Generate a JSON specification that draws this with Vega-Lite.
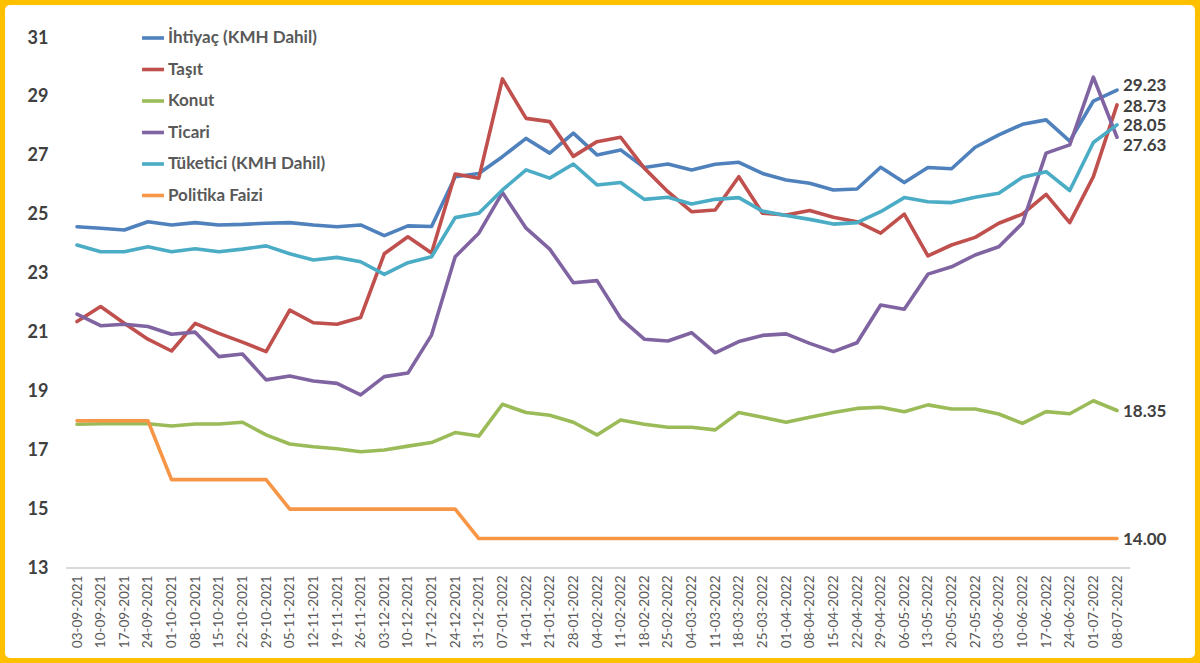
{
  "$schema": "https://vega.github.io/schema/vega-lite/v6.json",
  "width": 1200,
  "height": 663,
  "autosize": {"type": "none"},
  "padding": 0,
  "background": "white",
  "config": {
    "view": {"stroke": "#FFC000", "strokeWidth": 10, "cornerRadius": 10},
    "font": "Lato"
  },
  "datasets": {
    "rows": [
      {"d":"03-09-2021","s":"İhtiyaç (KMH Dahil)","v":24.59},{"d":"10-09-2021","s":"İhtiyaç (KMH Dahil)","v":24.54},{"d":"17-09-2021","s":"İhtiyaç (KMH Dahil)","v":24.48},{"d":"24-09-2021","s":"İhtiyaç (KMH Dahil)","v":24.76},{"d":"01-10-2021","s":"İhtiyaç (KMH Dahil)","v":24.65},{"d":"08-10-2021","s":"İhtiyaç (KMH Dahil)","v":24.73},{"d":"15-10-2021","s":"İhtiyaç (KMH Dahil)","v":24.65},{"d":"22-10-2021","s":"İhtiyaç (KMH Dahil)","v":24.67},{"d":"29-10-2021","s":"İhtiyaç (KMH Dahil)","v":24.71},{"d":"05-11-2021","s":"İhtiyaç (KMH Dahil)","v":24.73},{"d":"12-11-2021","s":"İhtiyaç (KMH Dahil)","v":24.65},{"d":"19-11-2021","s":"İhtiyaç (KMH Dahil)","v":24.59},{"d":"26-11-2021","s":"İhtiyaç (KMH Dahil)","v":24.65},{"d":"03-12-2021","s":"İhtiyaç (KMH Dahil)","v":24.29},{"d":"10-12-2021","s":"İhtiyaç (KMH Dahil)","v":24.62},{"d":"17-12-2021","s":"İhtiyaç (KMH Dahil)","v":24.6},{"d":"24-12-2021","s":"İhtiyaç (KMH Dahil)","v":26.29},{"d":"31-12-2021","s":"İhtiyaç (KMH Dahil)","v":26.4},{"d":"07-01-2022","s":"İhtiyaç (KMH Dahil)","v":26.97},{"d":"14-01-2022","s":"İhtiyaç (KMH Dahil)","v":27.59},{"d":"21-01-2022","s":"İhtiyaç (KMH Dahil)","v":27.09},{"d":"28-01-2022","s":"İhtiyaç (KMH Dahil)","v":27.77},{"d":"04-02-2022","s":"İhtiyaç (KMH Dahil)","v":27.03},{"d":"11-02-2022","s":"İhtiyaç (KMH Dahil)","v":27.2},{"d":"18-02-2022","s":"İhtiyaç (KMH Dahil)","v":26.6},{"d":"25-02-2022","s":"İhtiyaç (KMH Dahil)","v":26.72},{"d":"04-03-2022","s":"İhtiyaç (KMH Dahil)","v":26.52},{"d":"11-03-2022","s":"İhtiyaç (KMH Dahil)","v":26.71},{"d":"18-03-2022","s":"İhtiyaç (KMH Dahil)","v":26.78},{"d":"25-03-2022","s":"İhtiyaç (KMH Dahil)","v":26.4},{"d":"01-04-2022","s":"İhtiyaç (KMH Dahil)","v":26.18},{"d":"08-04-2022","s":"İhtiyaç (KMH Dahil)","v":26.07},{"d":"15-04-2022","s":"İhtiyaç (KMH Dahil)","v":25.84},{"d":"22-04-2022","s":"İhtiyaç (KMH Dahil)","v":25.87},{"d":"29-04-2022","s":"İhtiyaç (KMH Dahil)","v":26.61},{"d":"06-05-2022","s":"İhtiyaç (KMH Dahil)","v":26.09},{"d":"13-05-2022","s":"İhtiyaç (KMH Dahil)","v":26.6},{"d":"20-05-2022","s":"İhtiyaç (KMH Dahil)","v":26.56},{"d":"27-05-2022","s":"İhtiyaç (KMH Dahil)","v":27.29},{"d":"03-06-2022","s":"İhtiyaç (KMH Dahil)","v":27.71},{"d":"10-06-2022","s":"İhtiyaç (KMH Dahil)","v":28.07},{"d":"17-06-2022","s":"İhtiyaç (KMH Dahil)","v":28.22},{"d":"24-06-2022","s":"İhtiyaç (KMH Dahil)","v":27.5},{"d":"01-07-2022","s":"İhtiyaç (KMH Dahil)","v":28.86},{"d":"08-07-2022","s":"İhtiyaç (KMH Dahil)","v":29.23},
      {"d":"03-09-2021","s":"Taşıt","v":21.37},{"d":"10-09-2021","s":"Taşıt","v":21.88},{"d":"17-09-2021","s":"Taşıt","v":21.31},{"d":"24-09-2021","s":"Taşıt","v":20.77},{"d":"01-10-2021","s":"Taşıt","v":20.37},{"d":"08-10-2021","s":"Taşıt","v":21.31},{"d":"15-10-2021","s":"Taşıt","v":20.97},{"d":"22-10-2021","s":"Taşıt","v":20.67},{"d":"29-10-2021","s":"Taşıt","v":20.35},{"d":"05-11-2021","s":"Taşıt","v":21.76},{"d":"12-11-2021","s":"Taşıt","v":21.33},{"d":"19-11-2021","s":"Taşıt","v":21.28},{"d":"26-11-2021","s":"Taşıt","v":21.51},{"d":"03-12-2021","s":"Taşıt","v":23.67},{"d":"10-12-2021","s":"Taşıt","v":24.25},{"d":"17-12-2021","s":"Taşıt","v":23.7},{"d":"24-12-2021","s":"Taşıt","v":26.38},{"d":"31-12-2021","s":"Taşıt","v":26.24},{"d":"07-01-2022","s":"Taşıt","v":29.61},{"d":"14-01-2022","s":"Taşıt","v":28.27},{"d":"21-01-2022","s":"Taşıt","v":28.16},{"d":"28-01-2022","s":"Taşıt","v":26.98},{"d":"04-02-2022","s":"Taşıt","v":27.48},{"d":"11-02-2022","s":"Taşıt","v":27.63},{"d":"18-02-2022","s":"Taşıt","v":26.58},{"d":"25-02-2022","s":"Taşıt","v":25.78},{"d":"04-03-2022","s":"Taşıt","v":25.1},{"d":"11-03-2022","s":"Taşıt","v":25.16},{"d":"18-03-2022","s":"Taşıt","v":26.29},{"d":"25-03-2022","s":"Taşıt","v":25.05},{"d":"01-04-2022","s":"Taşıt","v":24.99},{"d":"08-04-2022","s":"Taşıt","v":25.14},{"d":"15-04-2022","s":"Taşıt","v":24.91},{"d":"22-04-2022","s":"Taşıt","v":24.76},{"d":"29-04-2022","s":"Taşıt","v":24.37},{"d":"06-05-2022","s":"Taşıt","v":25.02},{"d":"13-05-2022","s":"Taşıt","v":23.6},{"d":"20-05-2022","s":"Taşıt","v":23.97},{"d":"27-05-2022","s":"Taşıt","v":24.23},{"d":"03-06-2022","s":"Taşıt","v":24.71},{"d":"10-06-2022","s":"Taşıt","v":25.02},{"d":"17-06-2022","s":"Taşıt","v":25.69},{"d":"24-06-2022","s":"Taşıt","v":24.73},{"d":"01-07-2022","s":"Taşıt","v":26.29},{"d":"08-07-2022","s":"Taşıt","v":28.73},
      {"d":"03-09-2021","s":"Konut","v":17.88},{"d":"10-09-2021","s":"Konut","v":17.9},{"d":"17-09-2021","s":"Konut","v":17.9},{"d":"24-09-2021","s":"Konut","v":17.9},{"d":"01-10-2021","s":"Konut","v":17.82},{"d":"08-10-2021","s":"Konut","v":17.89},{"d":"15-10-2021","s":"Konut","v":17.89},{"d":"22-10-2021","s":"Konut","v":17.95},{"d":"29-10-2021","s":"Konut","v":17.52},{"d":"05-11-2021","s":"Konut","v":17.21},{"d":"12-11-2021","s":"Konut","v":17.12},{"d":"19-11-2021","s":"Konut","v":17.05},{"d":"26-11-2021","s":"Konut","v":16.95},{"d":"03-12-2021","s":"Konut","v":17.01},{"d":"10-12-2021","s":"Konut","v":17.14},{"d":"17-12-2021","s":"Konut","v":17.26},{"d":"24-12-2021","s":"Konut","v":17.6},{"d":"31-12-2021","s":"Konut","v":17.48},{"d":"07-01-2022","s":"Konut","v":18.56},{"d":"14-01-2022","s":"Konut","v":18.28},{"d":"21-01-2022","s":"Konut","v":18.19},{"d":"28-01-2022","s":"Konut","v":17.95},{"d":"04-02-2022","s":"Konut","v":17.52},{"d":"11-02-2022","s":"Konut","v":18.03},{"d":"18-02-2022","s":"Konut","v":17.88},{"d":"25-02-2022","s":"Konut","v":17.78},{"d":"04-03-2022","s":"Konut","v":17.78},{"d":"11-03-2022","s":"Konut","v":17.69},{"d":"18-03-2022","s":"Konut","v":18.28},{"d":"25-03-2022","s":"Konut","v":18.12},{"d":"01-04-2022","s":"Konut","v":17.95},{"d":"08-04-2022","s":"Konut","v":18.12},{"d":"15-04-2022","s":"Konut","v":18.28},{"d":"22-04-2022","s":"Konut","v":18.42},{"d":"29-04-2022","s":"Konut","v":18.46},{"d":"06-05-2022","s":"Konut","v":18.31},{"d":"13-05-2022","s":"Konut","v":18.54},{"d":"20-05-2022","s":"Konut","v":18.4},{"d":"27-05-2022","s":"Konut","v":18.4},{"d":"03-06-2022","s":"Konut","v":18.23},{"d":"10-06-2022","s":"Konut","v":17.91},{"d":"17-06-2022","s":"Konut","v":18.31},{"d":"24-06-2022","s":"Konut","v":18.24},{"d":"01-07-2022","s":"Konut","v":18.68},{"d":"08-07-2022","s":"Konut","v":18.35},
      {"d":"03-09-2021","s":"Ticari","v":21.62},{"d":"10-09-2021","s":"Ticari","v":21.23},{"d":"17-09-2021","s":"Ticari","v":21.28},{"d":"24-09-2021","s":"Ticari","v":21.2},{"d":"01-10-2021","s":"Ticari","v":20.94},{"d":"08-10-2021","s":"Ticari","v":21.01},{"d":"15-10-2021","s":"Ticari","v":20.18},{"d":"22-10-2021","s":"Ticari","v":20.27},{"d":"29-10-2021","s":"Ticari","v":19.39},{"d":"05-11-2021","s":"Ticari","v":19.52},{"d":"12-11-2021","s":"Ticari","v":19.35},{"d":"19-11-2021","s":"Ticari","v":19.27},{"d":"26-11-2021","s":"Ticari","v":18.88},{"d":"03-12-2021","s":"Ticari","v":19.5},{"d":"10-12-2021","s":"Ticari","v":19.62},{"d":"17-12-2021","s":"Ticari","v":20.91},{"d":"24-12-2021","s":"Ticari","v":23.57},{"d":"31-12-2021","s":"Ticari","v":24.37},{"d":"07-01-2022","s":"Ticari","v":25.75},{"d":"14-01-2022","s":"Ticari","v":24.54},{"d":"21-01-2022","s":"Ticari","v":23.83},{"d":"28-01-2022","s":"Ticari","v":22.69},{"d":"04-02-2022","s":"Ticari","v":22.76},{"d":"11-02-2022","s":"Ticari","v":21.48},{"d":"18-02-2022","s":"Ticari","v":20.77},{"d":"25-02-2022","s":"Ticari","v":20.71},{"d":"04-03-2022","s":"Ticari","v":20.99},{"d":"11-03-2022","s":"Ticari","v":20.31},{"d":"18-03-2022","s":"Ticari","v":20.69},{"d":"25-03-2022","s":"Ticari","v":20.9},{"d":"01-04-2022","s":"Ticari","v":20.95},{"d":"08-04-2022","s":"Ticari","v":20.63},{"d":"15-04-2022","s":"Ticari","v":20.35},{"d":"22-04-2022","s":"Ticari","v":20.65},{"d":"29-04-2022","s":"Ticari","v":21.93},{"d":"06-05-2022","s":"Ticari","v":21.79},{"d":"13-05-2022","s":"Ticari","v":22.98},{"d":"20-05-2022","s":"Ticari","v":23.23},{"d":"27-05-2022","s":"Ticari","v":23.63},{"d":"03-06-2022","s":"Ticari","v":23.91},{"d":"10-06-2022","s":"Ticari","v":24.71},{"d":"17-06-2022","s":"Ticari","v":27.09},{"d":"24-06-2022","s":"Ticari","v":27.37},{"d":"01-07-2022","s":"Ticari","v":29.67},{"d":"08-07-2022","s":"Ticari","v":27.63},
      {"d":"03-09-2021","s":"Tüketici (KMH Dahil)","v":23.97},{"d":"10-09-2021","s":"Tüketici (KMH Dahil)","v":23.74},{"d":"17-09-2021","s":"Tüketici (KMH Dahil)","v":23.74},{"d":"24-09-2021","s":"Tüketici (KMH Dahil)","v":23.91},{"d":"01-10-2021","s":"Tüketici (KMH Dahil)","v":23.74},{"d":"08-10-2021","s":"Tüketici (KMH Dahil)","v":23.84},{"d":"15-10-2021","s":"Tüketici (KMH Dahil)","v":23.74},{"d":"22-10-2021","s":"Tüketici (KMH Dahil)","v":23.83},{"d":"29-10-2021","s":"Tüketici (KMH Dahil)","v":23.94},{"d":"05-11-2021","s":"Tüketici (KMH Dahil)","v":23.67},{"d":"12-11-2021","s":"Tüketici (KMH Dahil)","v":23.46},{"d":"19-11-2021","s":"Tüketici (KMH Dahil)","v":23.55},{"d":"26-11-2021","s":"Tüketici (KMH Dahil)","v":23.4},{"d":"03-12-2021","s":"Tüketici (KMH Dahil)","v":22.97},{"d":"10-12-2021","s":"Tüketici (KMH Dahil)","v":23.37},{"d":"17-12-2021","s":"Tüketici (KMH Dahil)","v":23.57},{"d":"24-12-2021","s":"Tüketici (KMH Dahil)","v":24.9},{"d":"31-12-2021","s":"Tüketici (KMH Dahil)","v":25.05},{"d":"07-01-2022","s":"Tüketici (KMH Dahil)","v":25.84},{"d":"14-01-2022","s":"Tüketici (KMH Dahil)","v":26.52},{"d":"21-01-2022","s":"Tüketici (KMH Dahil)","v":26.24},{"d":"28-01-2022","s":"Tüketici (KMH Dahil)","v":26.72},{"d":"04-02-2022","s":"Tüketici (KMH Dahil)","v":26.01},{"d":"11-02-2022","s":"Tüketici (KMH Dahil)","v":26.09},{"d":"18-02-2022","s":"Tüketici (KMH Dahil)","v":25.52},{"d":"25-02-2022","s":"Tüketici (KMH Dahil)","v":25.59},{"d":"04-03-2022","s":"Tüketici (KMH Dahil)","v":25.36},{"d":"11-03-2022","s":"Tüketici (KMH Dahil)","v":25.52},{"d":"18-03-2022","s":"Tüketici (KMH Dahil)","v":25.58},{"d":"25-03-2022","s":"Tüketici (KMH Dahil)","v":25.12},{"d":"01-04-2022","s":"Tüketici (KMH Dahil)","v":24.97},{"d":"08-04-2022","s":"Tüketici (KMH Dahil)","v":24.84},{"d":"15-04-2022","s":"Tüketici (KMH Dahil)","v":24.68},{"d":"22-04-2022","s":"Tüketici (KMH Dahil)","v":24.73},{"d":"29-04-2022","s":"Tüketici (KMH Dahil)","v":25.1},{"d":"06-05-2022","s":"Tüketici (KMH Dahil)","v":25.58},{"d":"13-05-2022","s":"Tüketici (KMH Dahil)","v":25.44},{"d":"20-05-2022","s":"Tüketici (KMH Dahil)","v":25.41},{"d":"27-05-2022","s":"Tüketici (KMH Dahil)","v":25.59},{"d":"03-06-2022","s":"Tüketici (KMH Dahil)","v":25.73},{"d":"10-06-2022","s":"Tüketici (KMH Dahil)","v":26.27},{"d":"17-06-2022","s":"Tüketici (KMH Dahil)","v":26.46},{"d":"24-06-2022","s":"Tüketici (KMH Dahil)","v":25.82},{"d":"01-07-2022","s":"Tüketici (KMH Dahil)","v":27.45},{"d":"08-07-2022","s":"Tüketici (KMH Dahil)","v":28.05},
      {"d":"03-09-2021","s":"Politika Faizi","v":18},{"d":"10-09-2021","s":"Politika Faizi","v":18},{"d":"17-09-2021","s":"Politika Faizi","v":18},{"d":"24-09-2021","s":"Politika Faizi","v":18},{"d":"01-10-2021","s":"Politika Faizi","v":16},{"d":"08-10-2021","s":"Politika Faizi","v":16},{"d":"15-10-2021","s":"Politika Faizi","v":16},{"d":"22-10-2021","s":"Politika Faizi","v":16},{"d":"29-10-2021","s":"Politika Faizi","v":16},{"d":"05-11-2021","s":"Politika Faizi","v":15},{"d":"12-11-2021","s":"Politika Faizi","v":15},{"d":"19-11-2021","s":"Politika Faizi","v":15},{"d":"26-11-2021","s":"Politika Faizi","v":15},{"d":"03-12-2021","s":"Politika Faizi","v":15},{"d":"10-12-2021","s":"Politika Faizi","v":15},{"d":"17-12-2021","s":"Politika Faizi","v":15},{"d":"24-12-2021","s":"Politika Faizi","v":15},{"d":"31-12-2021","s":"Politika Faizi","v":14},{"d":"07-01-2022","s":"Politika Faizi","v":14},{"d":"14-01-2022","s":"Politika Faizi","v":14},{"d":"21-01-2022","s":"Politika Faizi","v":14},{"d":"28-01-2022","s":"Politika Faizi","v":14},{"d":"04-02-2022","s":"Politika Faizi","v":14},{"d":"11-02-2022","s":"Politika Faizi","v":14},{"d":"18-02-2022","s":"Politika Faizi","v":14},{"d":"25-02-2022","s":"Politika Faizi","v":14},{"d":"04-03-2022","s":"Politika Faizi","v":14},{"d":"11-03-2022","s":"Politika Faizi","v":14},{"d":"18-03-2022","s":"Politika Faizi","v":14},{"d":"25-03-2022","s":"Politika Faizi","v":14},{"d":"01-04-2022","s":"Politika Faizi","v":14},{"d":"08-04-2022","s":"Politika Faizi","v":14},{"d":"15-04-2022","s":"Politika Faizi","v":14},{"d":"22-04-2022","s":"Politika Faizi","v":14},{"d":"29-04-2022","s":"Politika Faizi","v":14},{"d":"06-05-2022","s":"Politika Faizi","v":14},{"d":"13-05-2022","s":"Politika Faizi","v":14},{"d":"20-05-2022","s":"Politika Faizi","v":14},{"d":"27-05-2022","s":"Politika Faizi","v":14},{"d":"03-06-2022","s":"Politika Faizi","v":14},{"d":"10-06-2022","s":"Politika Faizi","v":14},{"d":"17-06-2022","s":"Politika Faizi","v":14},{"d":"24-06-2022","s":"Politika Faizi","v":14},{"d":"01-07-2022","s":"Politika Faizi","v":14},{"d":"08-07-2022","s":"Politika Faizi","v":14}
    ]
  },
  "data": {"name": "rows"},
  "encoding": {
    "x": {
      "field": "d",
      "type": "ordinal",
      "sort": null,
      "scale": {
        "type": "point",
        "padding": 0,
        "range": [77, 1117],
        "domain": ["03-09-2021","10-09-2021","17-09-2021","24-09-2021","01-10-2021","08-10-2021","15-10-2021","22-10-2021","29-10-2021","05-11-2021","12-11-2021","19-11-2021","26-11-2021","03-12-2021","10-12-2021","17-12-2021","24-12-2021","31-12-2021","07-01-2022","14-01-2022","21-01-2022","28-01-2022","04-02-2022","11-02-2022","18-02-2022","25-02-2022","04-03-2022","11-03-2022","18-03-2022","25-03-2022","01-04-2022","08-04-2022","15-04-2022","22-04-2022","29-04-2022","06-05-2022","13-05-2022","20-05-2022","27-05-2022","03-06-2022","10-06-2022","17-06-2022","24-06-2022","01-07-2022","08-07-2022"]
      },
      "axis": {
        "title": null,
        "orient": "bottom",
        "offset": -95,
        "labelAngle": -90,
        "labelFont": "Lato",
        "labelFontSize": 13.5,
        "labelColor": "#595959",
        "labelPadding": 7,
        "ticks": false,
        "tickSize": 0,
        "domain": false,
        "grid": false
      }
    },
    "y": {
      "field": "v",
      "type": "quantitative",
      "scale": {"domain": [9.7736, 32.2906], "nice": false, "zero": false},
      "axis": {
        "title": null,
        "orient": "left",
        "offset": -66,
        "values": [13, 15, 17, 19, 21, 23, 25, 27, 29, 31],
        "labelFont": "Lato",
        "labelFontSize": 18,
        "labelFontWeight": "bold",
        "labelColor": "#404040",
        "labelPadding": 18,
        "ticks": false,
        "tickSize": 0,
        "domain": false,
        "grid": false
      }
    }
  },
  "layer": [
    {
      "mark": {"type": "rule", "color": "#D9D9D9", "strokeWidth": 1.2, "xOffset": -11, "x2Offset": 13},
      "encoding": {
        "x": {"datum": "03-09-2021", "type": "ordinal"},
        "x2": {"datum": "08-07-2022"},
        "y": {"datum": 13, "type": "quantitative"}
      }
    },
    {
      "mark": {"type": "line", "strokeWidth": 3.6, "strokeJoin": "round", "strokeCap": "round"},
      "encoding": {
        "color": {
          "field": "s",
          "type": "nominal",
          "scale": {
            "domain": ["İhtiyaç (KMH Dahil)", "Taşıt", "Konut", "Ticari", "Tüketici (KMH Dahil)", "Politika Faizi"],
            "range": ["#4F81BD", "#C0504D", "#9BBB59", "#8064A2", "#4BACC6", "#F79646"]
          },
          "legend": {
            "title": null,
            "orient": "none",
            "legendX": 140,
            "legendY": 25,
            "symbolType": "stroke",
            "symbolSize": 480,
            "symbolStrokeWidth": 3.6,
            "labelFont": "Lato",
            "labelFontSize": 17,
            "labelFontWeight": "bold",
            "labelColor": "#595959",
            "labelOffset": 2,
            "rowPadding": 10.5,
            "labelLimit": 400
          }
        }
      }
    },
    {
      "transform": [{"filter": {"and": [{"field": "d", "equal": "08-07-2022"}, {"field": "s", "oneOf": ["Konut", "Tüketici (KMH Dahil)", "Politika Faizi"]}]}}],
      "mark": {"type": "text", "align": "left", "baseline": "middle", "dx": 6, "dy": 1.5, "font": "Lato", "fontWeight": "bold", "fontSize": 17, "color": "#404040"},
      "encoding": {"text": {"field": "v", "type": "quantitative", "format": ".2f"}}
    },
    {
      "transform": [{"filter": {"and": [{"field": "d", "equal": "08-07-2022"}, {"field": "s", "equal": "İhtiyaç (KMH Dahil)"}]}}],
      "mark": {"type": "text", "align": "left", "baseline": "middle", "dx": 6, "dy": -4, "font": "Lato", "fontWeight": "bold", "fontSize": 17, "color": "#404040"},
      "encoding": {"text": {"field": "v", "type": "quantitative", "format": ".2f"}}
    },
    {
      "transform": [{"filter": {"and": [{"field": "d", "equal": "08-07-2022"}, {"field": "s", "equal": "Taşıt"}]}}],
      "mark": {"type": "text", "align": "left", "baseline": "middle", "dx": 6, "dy": 2.5, "font": "Lato", "fontWeight": "bold", "fontSize": 17, "color": "#404040"},
      "encoding": {"text": {"field": "v", "type": "quantitative", "format": ".2f"}}
    },
    {
      "transform": [{"filter": {"and": [{"field": "d", "equal": "08-07-2022"}, {"field": "s", "equal": "Ticari"}]}}],
      "mark": {"type": "text", "align": "left", "baseline": "middle", "dx": 6, "dy": 9, "font": "Lato", "fontWeight": "bold", "fontSize": 17, "color": "#404040"},
      "encoding": {"text": {"field": "v", "type": "quantitative", "format": ".2f"}}
    }
  ]
}
